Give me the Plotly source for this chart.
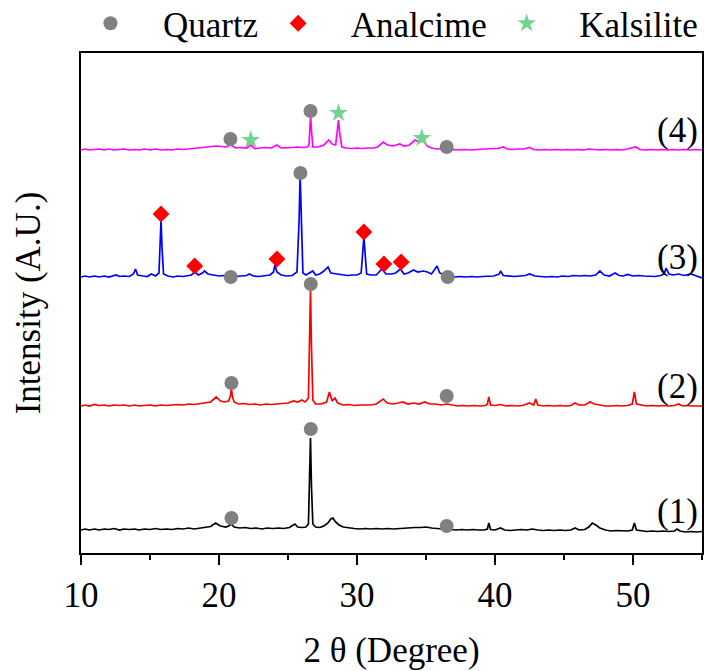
import plotly.graph_objects as go

FONT = "Liberation Serif, Times New Roman, serif"

# vertical stacking offsets of the four patterns (A.U.)
offsets = [22, 147, 276, 403]
pattern_labels = ["(1)", "(2)", "(3)", "(4)"]
line_colors = ["#000000", "#ff0000", "#0000ff", "#ff00ff"]

# XRD patterns: (2 theta, intensity above the pattern's own baseline)
pattern_1 = [
    (10.0, 1), (10.3, 2), (10.6, 1), (11.0, 2), (11.3, 1), (11.7, 2), (12.0, 1.5), (12.4, 2.5),
    (12.8, 1), (13.1, 2), (13.5, 1.5), (13.9, 2), (14.2, 1), (14.6, 2), (15.0, 1.5), (15.4, 2.5),
    (15.8, 1.5), (16.2, 2), (16.6, 1.5), (17.0, 2.5), (17.4, 2), (17.8, 3), (18.2, 2), (18.6, 3),
    (19.0, 3.5), (19.4, 4.5), (19.75, 8), (20.1, 5), (20.5, 4), (20.7, 5), (20.88, 7), (21.1, 4),
    (21.5, 3), (21.9, 3.5), (22.3, 2.5), (22.7, 3), (23.1, 2), (23.5, 3), (23.9, 2.5), (24.3, 3),
    (24.7, 2.5), (25.1, 3.5), (25.5, 7), (25.7, 4), (26.0, 3.5), (26.3, 4), (26.48, 7), (26.56, 45),
    (26.63, 93), (26.7, 45), (26.8, 7), (27.0, 4), (27.3, 3.5), (27.6, 5), (27.9, 8), (28.1, 12),
    (28.25, 13), (28.45, 9), (28.7, 6), (29.0, 4), (29.4, 3), (29.8, 2.5), (30.2, 2), (30.6, 2.5),
    (31.0, 2), (31.4, 2.5), (31.8, 2), (32.2, 2.5), (32.6, 2), (33.0, 2.5), (33.4, 3), (33.8, 3),
    (34.2, 3.5), (34.6, 3.5), (35.0, 4), (35.4, 3), (35.8, 2.5), (36.2, 2), (36.5, 3), (36.8, 1.5),
    (37.2, 1), (37.6, 1.5), (38.0, 1), (38.4, 1.5), (38.8, 1), (39.2, 1), (39.45, 2), (39.55, 8),
    (39.68, 1.5), (40.0, 1), (40.4, 3), (40.7, 1), (41.1, 0.5), (41.5, 1), (41.9, 1.5), (42.3, 1),
    (42.7, 2), (43.1, 1), (43.5, 0.5), (43.9, 1), (44.3, 0.5), (44.7, 1), (45.1, 0.5), (45.5, 1),
    (45.8, 3), (46.1, 1), (46.5, 1.5), (46.8, 4), (47.05, 8), (47.3, 6), (47.6, 3), (48.0, 1),
    (48.4, 0), (48.8, 0.5), (49.2, 0), (49.6, 0), (49.95, 1), (50.1, 8), (50.25, 1), (50.6, 0),
    (51.0, -0.5), (51.4, 0), (51.8, -0.5), (52.2, 0), (52.6, -0.5), (53.0, 0), (53.2, 2), (53.4, 0),
    (53.8, -1), (54.2, -0.5), (54.6, -1), (55.0, -0.5),
]

pattern_2 = [
    (10.0, 0), (10.3, 1), (10.6, 0), (11.0, 1.5), (11.3, 0.5), (11.7, 1), (12.0, 0), (12.4, 1),
    (12.8, 0.5), (13.1, 1), (13.5, 0), (13.9, 1), (14.2, 0), (14.6, 0.5), (15.0, 1), (15.4, 0),
    (15.8, 1), (16.2, 0.5), (16.6, 1), (17.0, 1.5), (17.4, 1), (17.8, 2), (18.2, 1.5), (18.6, 2.5),
    (19.0, 3), (19.4, 4), (19.8, 9), (20.1, 5), (20.4, 4), (20.7, 5), (20.82, 10), (20.9, 17),
    (20.98, 9), (21.1, 4), (21.4, 2), (21.8, 2.5), (22.2, 1.5), (22.6, 2), (23.0, 1), (23.4, 2),
    (23.8, 1.5), (24.2, 2), (24.6, 2.5), (25.0, 3), (25.4, 5), (25.7, 4), (26.0, 6), (26.25, 4),
    (26.48, 8), (26.56, 60), (26.63, 116), (26.7, 60), (26.8, 6), (27.0, 2), (27.4, 2), (27.8, 4),
    (28.0, 14), (28.2, 5), (28.4, 8), (28.6, 3), (29.0, 1), (29.4, 1.5), (29.8, 0.5), (30.2, 1),
    (30.6, 1), (31.0, 1), (31.4, 2), (31.9, 7), (32.2, 3), (32.6, 2), (33.0, 3), (33.3, 4),
    (33.7, 2), (34.1, 3), (34.5, 2), (34.9, 4), (35.3, 2), (35.7, 2), (36.1, 1), (36.5, 2),
    (36.9, 1), (37.3, 0), (37.7, 0.5), (38.1, 0), (38.5, 0.5), (38.9, 0), (39.3, 0.5), (39.45, 2),
    (39.55, 9), (39.68, 1), (40.0, 0.5), (40.4, 1.5), (40.8, 0), (41.2, 0.5), (41.6, 0), (42.0, 0.5),
    (42.5, 3), (42.8, 1), (42.95, 7), (43.1, 1), (43.5, 0), (43.9, 0.5), (44.3, 0), (44.7, 0.5),
    (45.1, 0), (45.5, 0.5), (45.8, 3), (46.1, 1), (46.5, 1), (46.9, 4), (47.2, 2), (47.6, 1),
    (48.0, 0), (48.4, 0), (48.8, 0.5), (49.2, 0), (49.6, 0.5), (49.95, 2), (50.1, 14), (50.25, 2),
    (50.6, 1), (51.0, 0), (51.4, 0.5), (51.8, 0), (52.2, 0.5), (52.6, 0), (53.0, 0.5), (53.3, 2),
    (53.6, 0), (54.0, 0.5), (54.4, 0), (54.8, 0.5), (55.0, 0),
]

pattern_3 = [
    (10.0, 0), (10.3, 1), (10.6, 0), (11.0, 1), (11.3, 0), (11.7, 1), (12.0, 0), (12.3, 1),
    (12.55, 2), (12.8, 0.5), (13.1, 1), (13.5, 0.5), (13.8, 3), (13.95, 8), (14.1, 2), (14.5, 1),
    (14.8, 0.5), (15.1, 3), (15.4, 1), (15.65, 4), (15.74, 35), (15.8, 57), (15.87, 30), (15.98, 3),
    (16.3, 1), (16.7, 0), (17.0, 1), (17.4, 0.5), (17.8, 1.5), (18.0, 2), (18.24, 5), (18.5, 2),
    (18.8, 4), (18.95, 6), (19.2, 3), (19.6, 2), (20.0, 1), (20.4, 1.5), (20.8, 1), (21.2, 0.5),
    (21.6, 1), (22.0, 1.5), (22.2, 3), (22.5, 1), (22.9, 0.5), (23.3, 1.5), (23.7, 2), (23.95, 5),
    (24.05, 12), (24.2, 5), (24.5, 2), (24.9, 1), (25.3, 1.5), (25.65, 5), (25.8, 55), (25.88, 102),
    (25.96, 55), (26.08, 4), (26.3, 2), (26.6, 4), (26.8, 6), (27.0, 2), (27.3, 3), (27.6, 6),
    (27.9, 10), (28.1, 4), (28.5, 3), (28.9, 2), (29.3, 1.5), (29.7, 2), (30.0, 2), (30.3, 4),
    (30.42, 25), (30.5, 40), (30.58, 25), (30.7, 3), (31.0, 2), (31.4, 2), (31.8, 8), (32.1, 3),
    (32.5, 3), (32.8, 4), (33.15, 8), (33.4, 3), (33.7, 4), (34.1, 7), (34.4, 5), (34.8, 6),
    (35.1, 5), (35.4, 3), (35.8, 11), (36.0, 4), (36.3, 2), (36.7, 1), (37.1, 0), (37.5, 0.5),
    (37.9, 0), (38.3, 0.5), (38.7, 0), (39.1, 0.5), (39.5, 1), (39.9, 1), (40.3, 3), (40.4, 6),
    (40.6, 1.5), (41.0, 1), (41.4, 0.5), (41.8, 1), (42.2, 1.5), (42.5, 3), (42.9, 1), (43.3, 0.5),
    (43.7, 0), (44.1, 0.5), (44.5, 0), (44.9, 1), (45.3, 0.5), (45.7, 1.5), (46.1, 1), (46.5, 1.5),
    (46.9, 1), (47.3, 2), (47.6, 6), (47.9, 2), (48.3, 1), (48.7, 4), (49.0, 1.5), (49.3, 1),
    (49.6, 2.5), (50.0, 1), (50.4, 1.5), (50.8, 1), (51.2, 1), (51.6, 0.5), (52.0, 1.5), (52.25, 3),
    (52.4, 9), (52.6, 3), (52.9, 2), (53.3, 3), (53.7, 1.5), (54.0, 2), (54.2, 3), (54.6, 1),
    (55.0, -1),
]

pattern_4 = [
    (10.0, 0), (10.3, 1), (10.6, 0), (11.0, 0.5), (11.3, 1), (11.7, 0), (12.0, 1), (12.4, 0),
    (12.8, 0.5), (13.1, 1), (13.5, 0), (13.9, 0.5), (14.2, 0), (14.6, 1), (15.0, 0), (15.4, 1),
    (15.8, 0), (16.2, 0.5), (16.6, 0), (17.0, 1), (17.4, 0.5), (17.8, 1), (18.2, 1.5), (18.6, 2.5),
    (19.0, 3), (19.4, 3.5), (19.8, 4), (20.2, 3.5), (20.5, 3), (20.85, 5), (21.2, 2), (21.6, 2.5),
    (22.0, 2), (22.3, 5), (22.6, 1.5), (23.0, 2), (23.4, 2.5), (23.8, 2), (24.2, 5), (24.5, 2),
    (24.9, 2), (25.3, 2.5), (25.7, 3), (26.1, 2.5), (26.4, 3), (26.52, 5), (26.58, 20), (26.64, 34),
    (26.71, 18), (26.8, 3), (27.2, 3), (27.6, 5), (27.95, 10), (28.2, 6), (28.45, 5), (28.57, 18),
    (28.66, 30), (28.75, 16), (28.9, 3), (29.2, 2), (29.6, 1.5), (30.0, 2), (30.4, 1.5), (30.8, 2),
    (31.2, 2), (31.5, 3), (31.9, 8), (32.2, 5), (32.6, 4), (33.1, 6), (33.4, 4), (33.8, 5),
    (34.2, 10), (34.5, 8), (34.8, 9), (35.1, 4), (35.4, 2), (35.8, 1), (36.2, 1.5), (36.6, 0),
    (37.0, 0.5), (37.4, 0), (37.8, 0.5), (38.2, 0), (38.6, 0.5), (39.0, 1), (39.4, 1), (39.8, 1.5),
    (40.2, 1.5), (40.6, 3), (40.9, 1), (41.3, 0.5), (41.7, 1), (42.1, 1), (42.5, 2.5), (42.8, 0.5),
    (43.2, 0), (43.6, 0.5), (44.0, 0), (44.4, 0.5), (44.8, 0), (45.2, 0.5), (45.6, 0), (46.0, 0.5),
    (46.4, 0), (46.8, 1), (47.2, 0.5), (47.6, 0), (48.0, 0.5), (48.4, 0), (48.8, 0.5), (49.2, 0),
    (49.6, 1), (50.2, 3), (50.5, 0.5), (50.9, 0), (51.3, 0.5), (51.7, 0), (52.1, 0.5), (52.5, 0),
    (52.9, 0.5), (53.3, 0), (53.7, 0.5), (54.1, 0), (54.5, 0.5), (55.0, 0),
]

patterns = [pattern_1, pattern_2, pattern_3, pattern_4]

# phase markers: (pattern index, 2 theta, height above that pattern's baseline)
quartz_marks = [
    (0, 20.9, 13), (0, 26.65, 102), (0, 36.5, 5),
    (1, 20.9, 23), (1, 26.65, 122), (1, 36.5, 10),
    (2, 20.85, 0), (2, 25.9, 104), (2, 36.57, 0),
    (3, 20.83, 11), (3, 26.63, 39), (3, 36.5, 3),
]
analcime_marks = [
    (2, 15.8, 63), (2, 18.24, 11), (2, 24.2, 18),
    (2, 30.5, 45), (2, 31.95, 13), (2, 33.2, 15),
]
kalsilite_marks = [(3, 22.3, 10), (3, 28.66, 37), (3, 34.7, 12)]

phases = [
    ("Quartz", quartz_marks, "circle", 14, "#808080"),
    ("Analcime", analcime_marks, "diamond", 13, "#ff0000"),
    ("Kalsilite", kalsilite_marks, "star", 14, "#72d48f"),
]

fig = go.Figure()

for pts, off, col in zip(patterns, offsets, line_colors):
    fig.add_trace(go.Scatter(
        x=[p[0] for p in pts],
        y=[p[1] + off for p in pts],
        mode="lines",
        line=dict(color=col, width=1.7),
        showlegend=False,
        hoverinfo="skip",
    ))

for name, marks, symbol, size, col in phases:
    fig.add_trace(go.Scatter(
        x=[m[1] for m in marks],
        y=[m[2] + offsets[m[0]] for m in marks],
        mode="markers",
        name="\u00a0\u00a0" + name,
        marker=dict(symbol=symbol, size=size, color=col, line=dict(width=0)),
        cliponaxis=False,
    ))

for lab, off in zip(pattern_labels, offsets):
    fig.add_annotation(
        x=53.2, y=off + 20, xref="x", yref="y",
        text=lab, showarrow=False,
        font=dict(family=FONT, size=35, color="#000000"),
        xanchor="center", yanchor="middle",
    )

fig.update_layout(
    width=705, height=671,
    margin=dict(l=81, r=3, t=53, b=118, autoexpand=False),
    paper_bgcolor="white", plot_bgcolor="white",
    font=dict(family=FONT, size=35, color="#000000"),
    legend=dict(
        orientation="h", x=-0.009, y=1.0, xanchor="left", yanchor="bottom",
        itemwidth=60, bgcolor="rgba(0,0,0,0)", borderwidth=0,
        font=dict(family=FONT, size=35), tracegroupgap=0,
    ),
    xaxis=dict(
        range=[10, 55], dtick=10, tick0=10,
        showline=True, linewidth=2, linecolor="#000000", mirror=True,
        ticks="outside", ticklen=10, tickwidth=2, tickcolor="#000000",
        minor=dict(dtick=5, tick0=10, ticks="outside", ticklen=5, tickwidth=2, tickcolor="#000000"),
        showgrid=False, zeroline=False,
        tickfont=dict(family=FONT, size=35),
        title=dict(text="2 \u03b8 (Degree)", font=dict(family=FONT, size=35), standoff=23),
    ),
    yaxis=dict(
        range=[0, 500],
        showline=True, linewidth=2, linecolor="#000000", mirror=True,
        ticks="", showticklabels=False, showgrid=False, zeroline=False,
        title=dict(text="Intensity (A.U.)", font=dict(family=FONT, size=35), standoff=28),
    ),
)

fig.write_html("out.html")
